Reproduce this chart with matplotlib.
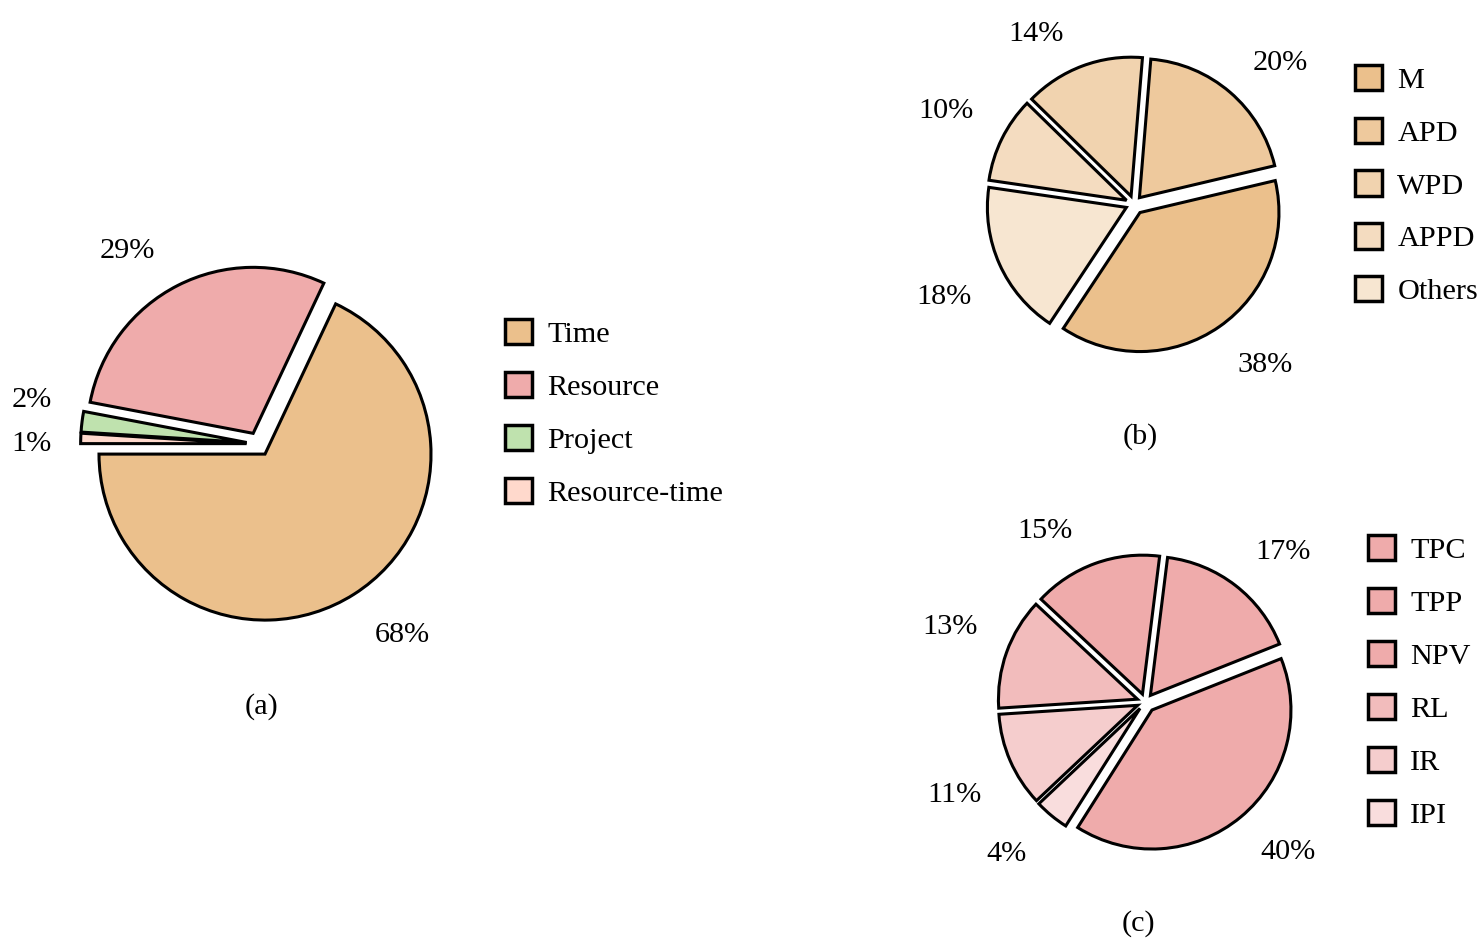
import matplotlib
matplotlib.use('Agg')
import matplotlib.pyplot as plt
from matplotlib.colors import to_rgb
from matplotlib.patches import Patch
import numpy as np

plt.rcParams['font.family'] = ['Liberation Serif', 'DejaVu Serif']

# ---------------- data ----------------
a_labels = ['Time', 'Resource', 'Project', 'Resource-time']
a_values = [68, 29, 2, 1]

b_labels = ['M', 'APD', 'WPD', 'APPD', 'Others']
b_values = [38, 20, 14, 10, 18]

c_labels = ['TPC', 'TPP', 'NPV', 'RL', 'IR', 'IPI']
c_values = [17, 15, 40, 13, 11, 4]
c_draw_order = ['NPV', 'TPC', 'TPP', 'RL', 'IR', 'IPI']  # counter-clockwise wedge order

# ---------------- style ----------------
W, H = 1481, 938
FS = 21.8
LW = 2.2
LEG_LW = 2.5


def tint(c, a):
    r = np.array(to_rgb(c))
    return tuple(1 - a * (1 - r))


a_colors = ['#EBC08C', '#EFABAB', '#BFE2AE', '#FFD9CC']
b_colors = [tint('#EBC08C', a) for a in (1, .85, .7, .55, .4)]
c_colors = [tint('#EFABAB', a) for a in (1, 1, 1, .8, .6, .4)]

fig = plt.figure(figsize=(W / 100, H / 100), dpi=100)


def pie_axes(cx, cy, r, L=1.65):
    ax = fig.add_axes([(cx - L * r) / W, (H - cy - L * r) / H, 2 * L * r / W, 2 * L * r / H])
    ax.set_axis_off()
    return ax


def draw_pie(ax, values, colors, start, explode, ld, L=1.65):
    wedges, texts = ax.pie(values, colors=colors, startangle=start, counterclock=True,
                           explode=explode, labels=[f'{v}%' for v in values],
                           labeldistance=ld,
                           wedgeprops=dict(edgecolor='black', linewidth=LW,
                                           joinstyle='miter'),
                           textprops=dict(fontsize=FS))
    ax.set_xlim(-L, L)
    ax.set_ylim(-L, L)
    ax.set_aspect('equal')
    return wedges, texts


def nudge(texts, offsets_px, r):
    # small label position tweaks (pixels: right, down)
    for t, (dx, dy) in zip(texts, offsets_px):
        x0, y0 = t.get_position()
        t.set_position((x0 + dx / r, y0 - dy / r))


def add_legend(labels, colors, x, y):
    handles = [Patch(facecolor=c, edgecolor='black', linewidth=LEG_LW) for c in colors]
    fig.legend(handles, labels, loc='center left', bbox_to_anchor=(x / W, 1 - y / H),
               frameon=False, fontsize=FS, borderpad=0, borderaxespad=0,
               handlelength=0.9, handleheight=0.9, handletextpad=0.5,
               labelspacing=0.79)


# ---------------- (a) ----------------
Ra = 166
ax_a = pie_axes(258.6, 444, Ra)
wa, ta = draw_pie(ax_a, a_values, a_colors, 180, [0.072] * 4, 1.26)
nudge(ta, [(-2, 4), (-3, 4), (13, -16), (14, 7)], Ra)
add_legend(a_labels, a_colors, 505, 413)
fig.text(262 / W, 1 - 707 / H, '(a)', ha='center', va='center', fontsize=FS)

# ---------------- (b) ----------------
Rb = 139
ax_b = pie_axes(1134, 204, Rb)
wb, tb = draw_pie(ax_b, b_values, b_colors, -123.5, [0.075, 0.06, 0.06, 0.06, 0.06], 1.285)
nudge(tb, [(-5, 6), (-3, 1), (-5, 5), (7, -10), (8, 17)], Rb)
add_legend(b_labels, b_colors, 1355, 185)
fig.text(1140 / W, 1 - 437 / H, '(b)', ha='center', va='center', fontsize=FS)

# ---------------- (c) ----------------
c_vals_drawn = [c_values[c_labels.index(k)] for k in c_draw_order]
c_cols_drawn = [c_colors[c_labels.index(k)] for k in c_draw_order]
c_expl = [0.075 if k == 'NPV' else 0.06 for k in c_draw_order]
Rc = 139
ax_c = pie_axes(1145.3, 702, Rc)
wc, tc = draw_pie(ax_c, c_vals_drawn, c_cols_drawn, -122.3, c_expl, 1.285)
nudge(tc, [(-6, 5), (-4, -2), (-9, 5), (8, -12), (8, 18), (0, 8)], Rc)
add_legend(c_labels, c_colors, 1368, 682)
fig.text(1138 / W, 1 - 924 / H, '(c)', ha='center', va='center', fontsize=FS)

fig.savefig('out.png', dpi=100)
